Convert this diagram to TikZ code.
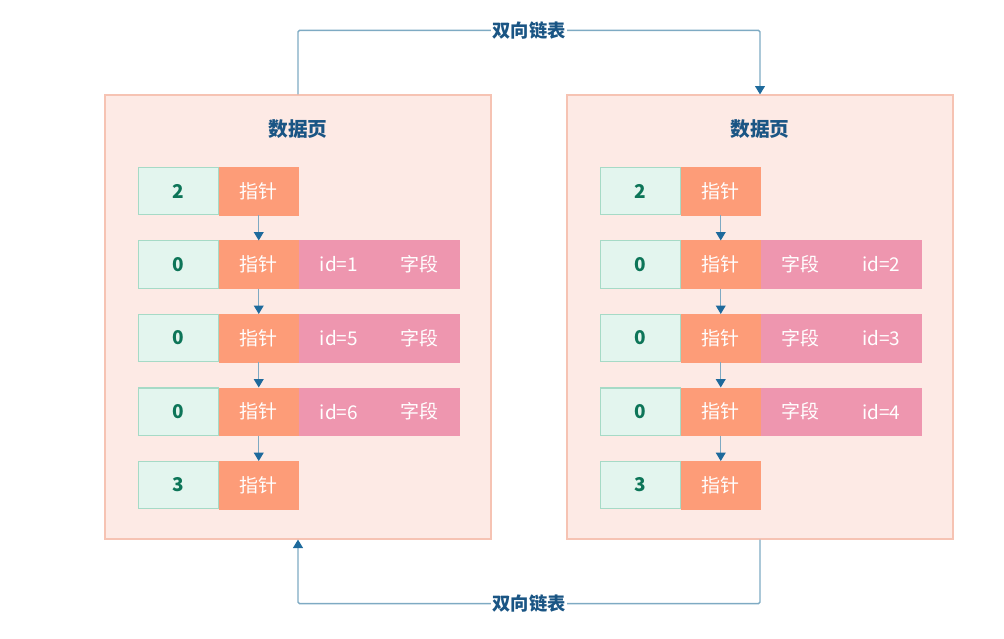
\documentclass[tikz,border=0pt]{standalone}
\usepackage{fontspec}
\setmainfont{Noto Sans CJK SC}
\usepackage{tikz}
\usetikzlibrary{positioning,arrows.meta,calc}

\definecolor{pageFill}{HTML}{FDEAE5}
\definecolor{pageDraw}{HTML}{F6C3B3}
\definecolor{keyFill}{HTML}{E3F5EE}
\definecolor{keyDraw}{HTML}{A6DAC6}
\definecolor{keyText}{HTML}{0D7558}
\definecolor{ptrFill}{HTML}{FD9C78}
\definecolor{fieldFill}{HTML}{EE96AF}
\definecolor{titleBlue}{HTML}{1A5584}
\definecolor{lineBlue}{HTML}{7EAAC3}
\definecolor{tipBlue}{HTML}{1E6A9C}

\begin{document}
\begin{tikzpicture}[
    pageBox/.style={rectangle, draw=pageDraw, fill=pageFill, line width=0.8pt, minimum width=9.65cm, minimum height=11.1cm},
    pageTitle/.style={font=\fontsize{14}{16}\selectfont\bfseries, text=titleBlue},
    keyCell/.style={rectangle, draw=keyDraw, fill=keyFill, line width=0.8pt, minimum width=1.98cm, minimum height=1.18cm, font=\fontsize{13.5}{15}\selectfont\bfseries, text=keyText},
    ptrCell/.style={rectangle, draw=ptrFill, fill=ptrFill, line width=0.4pt, minimum width=1.99cm, minimum height=1.19cm, font=\fontsize{13.5}{15}\selectfont, text=white},
    fieldCell/.style={rectangle, draw=fieldFill, fill=fieldFill, line width=0.4pt, minimum width=1.99cm, minimum height=1.19cm, font=\fontsize{13.5}{15}\selectfont, text=white},
    ptrArrow/.style={-{Triangle[length=6pt, width=7pt, color=tipBlue]}, line width=0.8pt, draw=lineBlue},
    linkArrow/.style={-{Triangle[length=6pt, width=7pt, color=tipBlue]}, line width=1pt, draw=lineBlue, rounded corners=1pt},
    linkLabel/.style={fill=white, inner sep=1pt, font=\fontsize{13}{15}\selectfont\bfseries, text=titleBlue}
]
\useasboundingbox (0,0) rectangle (25.1,-15.95);

% ================= LEFT PAGE =================
\node[pageBox] (pageL) at (7.45,-7.925) {};
\node[pageTitle] (titleL) at (7.45,-3.225) {数据页};

\node[keyCell] (l1k) at (4.4625,-4.775) {2};
\node[ptrCell, right=0pt of l1k] (l1p) {指针};

\node[keyCell, below=0.63cm of l1k] (l2k) {0};
\node[ptrCell, right=0pt of l2k] (l2p) {指针};
\node[fieldCell, right=0pt of l2p] (l2a) {id=1};
\node[fieldCell, right=0pt of l2a] (l2b) {字段};

\node[keyCell, below=0.63cm of l2k] (l3k) {0};
\node[ptrCell, right=0pt of l3k] (l3p) {指针};
\node[fieldCell, right=0pt of l3p] (l3a) {id=5};
\node[fieldCell, right=0pt of l3a] (l3b) {字段};

\node[keyCell, below=0.63cm of l3k] (l4k) {0};
\node[ptrCell, right=0pt of l4k] (l4p) {指针};
\node[fieldCell, right=0pt of l4p] (l4a) {id=6};
\node[fieldCell, right=0pt of l4a] (l4b) {字段};

\node[keyCell, below=0.63cm of l4k] (l5k) {3};
\node[ptrCell, right=0pt of l5k] (l5p) {指针};

\draw[ptrArrow] (l1p.south) -- (l2p.north);
\draw[ptrArrow] (l2p.south) -- (l3p.north);
\draw[ptrArrow] (l3p.south) -- (l4p.north);
\draw[ptrArrow] (l4p.south) -- (l5p.north);

% ================= RIGHT PAGE =================
\node[pageBox] (pageR) at (19,-7.925) {};
\node[pageTitle] (titleR) at (19,-3.225) {数据页};

\node[keyCell] (r1k) at (16.0125,-4.775) {2};
\node[ptrCell, right=0pt of r1k] (r1p) {指针};

\node[keyCell, below=0.63cm of r1k] (r2k) {0};
\node[ptrCell, right=0pt of r2k] (r2p) {指针};
\node[fieldCell, right=0pt of r2p] (r2a) {字段};
\node[fieldCell, right=0pt of r2a] (r2b) {id=2};

\node[keyCell, below=0.63cm of r2k] (r3k) {0};
\node[ptrCell, right=0pt of r3k] (r3p) {指针};
\node[fieldCell, right=0pt of r3p] (r3a) {字段};
\node[fieldCell, right=0pt of r3a] (r3b) {id=3};

\node[keyCell, below=0.63cm of r3k] (r4k) {0};
\node[ptrCell, right=0pt of r4k] (r4p) {指针};
\node[fieldCell, right=0pt of r4p] (r4a) {字段};
\node[fieldCell, right=0pt of r4a] (r4b) {id=4};

\node[keyCell, below=0.63cm of r4k] (r5k) {3};
\node[ptrCell, right=0pt of r5k] (r5p) {指针};

\draw[ptrArrow] (r1p.south) -- (r2p.north);
\draw[ptrArrow] (r2p.south) -- (r3p.north);
\draw[ptrArrow] (r3p.south) -- (r4p.north);
\draw[ptrArrow] (r4p.south) -- (r5p.north);

% ================= DOUBLY LINKED LIST =================
\draw[linkArrow] (pageL.north) -- ([yshift=1.6cm]pageL.north) -| node[linkLabel, pos=0.25] (linkTop) {双向链表} (pageR.north);
\draw[linkArrow] (pageR.south) -- ([yshift=-1.6cm]pageR.south) -| node[linkLabel, pos=0.25] (linkBot) {双向链表} (pageL.south);

\end{tikzpicture}
\end{document}
